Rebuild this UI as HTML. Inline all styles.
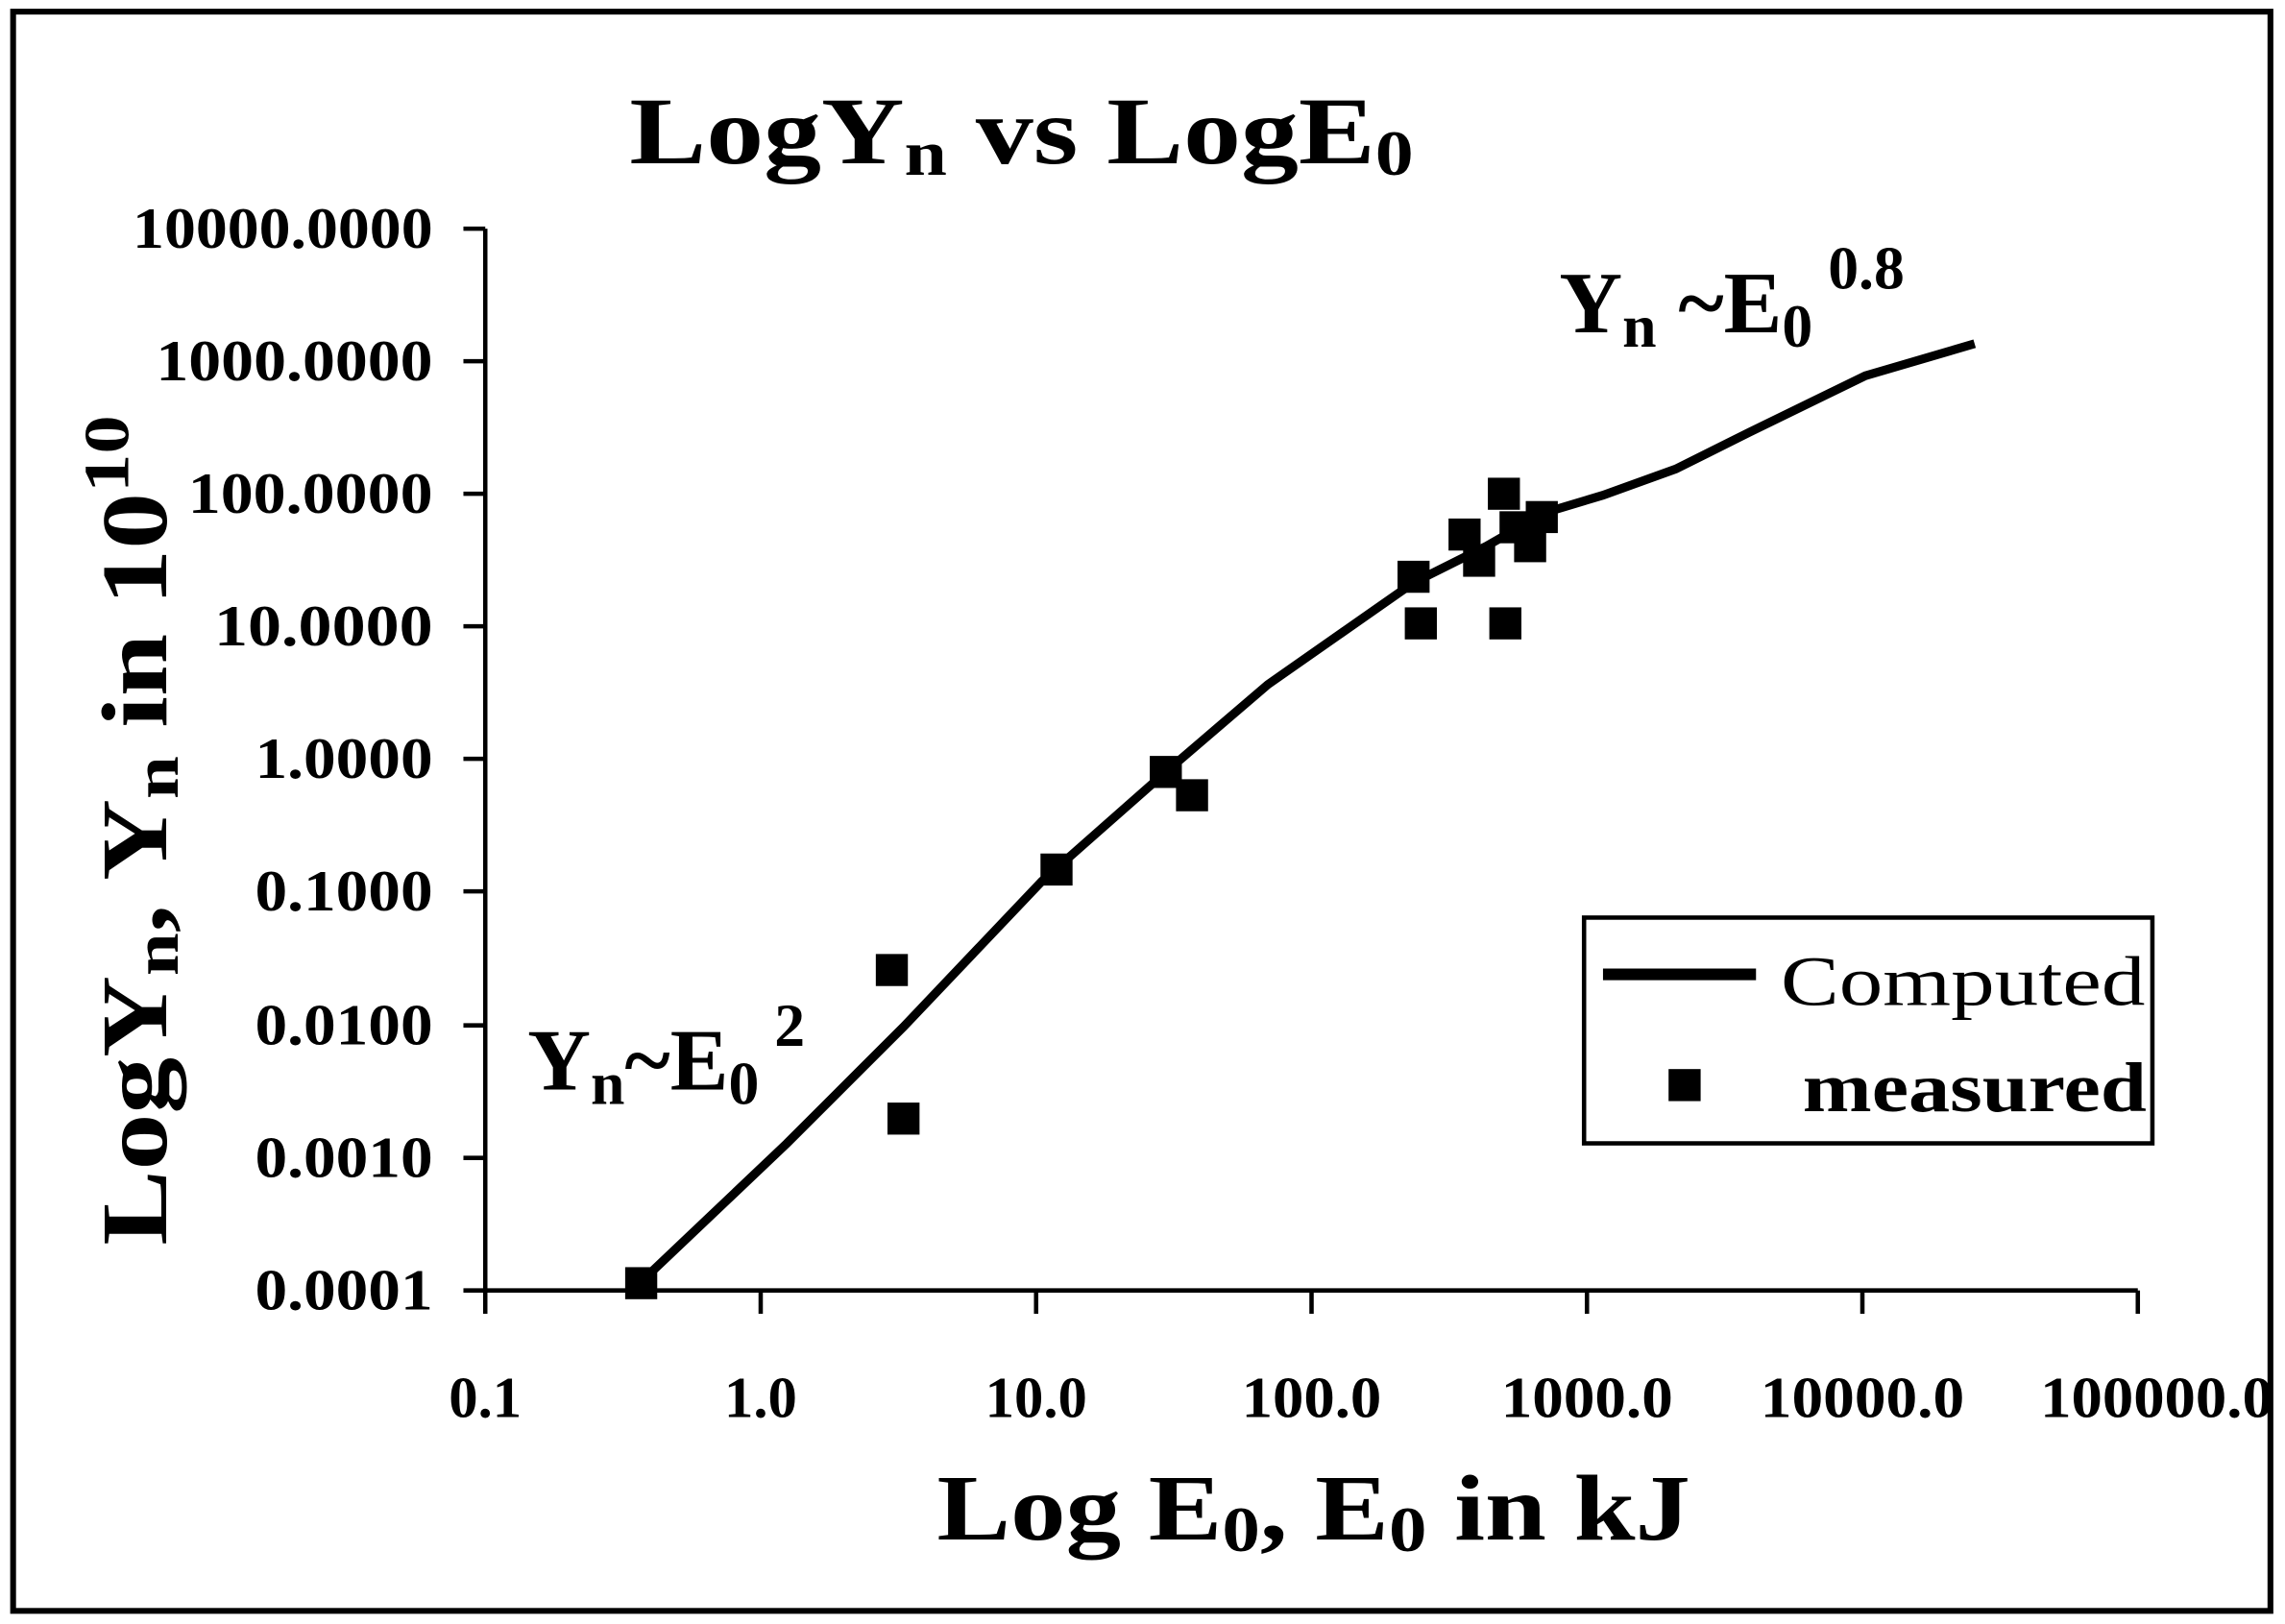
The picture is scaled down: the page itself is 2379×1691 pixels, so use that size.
<!DOCTYPE html>
<html><head><style>html,body{margin:0;padding:0;background:#fff}svg{display:block}</style></head>
<body>
<svg width="2379" height="1691" viewBox="0 0 1568 1115" preserveAspectRatio="none" xmlns="http://www.w3.org/2000/svg" font-family="Liberation Serif, serif" font-weight="bold">
<rect x="9" y="8" width="1549" height="1098" fill="#fff" stroke="#000" stroke-width="4"/>
<text x="432" y="112" font-size="66" textLength="538" lengthAdjust="spacingAndGlyphs">LogY<tspan font-size="44" dy="8">n</tspan><tspan dy="-8"> vs LogE</tspan><tspan font-size="44" dy="8">0</tspan></text>
<g stroke="#000" stroke-width="3" fill="none">
<line x1="333" y1="157" x2="333" y2="888"/>
<line x1="333" y1="886" x2="1467" y2="886"/>
<line x1="318" y1="157" x2="333" y2="157"/><line x1="318" y1="248" x2="333" y2="248"/>
<line x1="318" y1="339" x2="333" y2="339"/><line x1="318" y1="430" x2="333" y2="430"/>
<line x1="318" y1="521" x2="333" y2="521"/><line x1="318" y1="612" x2="333" y2="612"/>
<line x1="318" y1="704" x2="333" y2="704"/><line x1="318" y1="795" x2="333" y2="795"/>
<line x1="318" y1="886" x2="333" y2="886"/>
<line x1="333" y1="886" x2="333" y2="902"/><line x1="522" y1="886" x2="522" y2="902"/>
<line x1="711" y1="886" x2="711" y2="902"/><line x1="900" y1="886" x2="900" y2="902"/>
<line x1="1089" y1="886" x2="1089" y2="902"/><line x1="1278" y1="886" x2="1278" y2="902"/>
<line x1="1467" y1="886" x2="1467" y2="902"/>
</g>
<g font-size="40" text-anchor="end">
<text x="297" y="170" textLength="206" lengthAdjust="spacingAndGlyphs">10000.0000</text>
<text x="297" y="261" textLength="190" lengthAdjust="spacingAndGlyphs">1000.0000</text>
<text x="297" y="352" textLength="168" lengthAdjust="spacingAndGlyphs">100.0000</text>
<text x="297" y="443" textLength="150" lengthAdjust="spacingAndGlyphs">10.0000</text>
<text x="297" y="534" textLength="122" lengthAdjust="spacingAndGlyphs">1.0000</text>
<text x="297" y="625" textLength="122" lengthAdjust="spacingAndGlyphs">0.1000</text>
<text x="297" y="717" textLength="122" lengthAdjust="spacingAndGlyphs">0.0100</text>
<text x="297" y="808" textLength="122" lengthAdjust="spacingAndGlyphs">0.0010</text>
<text x="297" y="899" textLength="122" lengthAdjust="spacingAndGlyphs">0.0001</text>
</g>
<g font-size="40" text-anchor="middle">
<text x="333" y="973" textLength="50" lengthAdjust="spacingAndGlyphs">0.1</text>
<text x="522" y="973" textLength="50" lengthAdjust="spacingAndGlyphs">1.0</text>
<text x="711" y="973" textLength="70" lengthAdjust="spacingAndGlyphs">10.0</text>
<text x="900" y="973" textLength="96" lengthAdjust="spacingAndGlyphs">100.0</text>
<text x="1089" y="973" textLength="118" lengthAdjust="spacingAndGlyphs">1000.0</text>
<text x="1278" y="973" textLength="140" lengthAdjust="spacingAndGlyphs">10000.0</text>
<text x="1480" y="973" textLength="160" lengthAdjust="spacingAndGlyphs">100000.0</text>
</g>
<text x="643" y="1057" font-size="64" textLength="517" lengthAdjust="spacingAndGlyphs">Log E<tspan font-size="44" dy="8">0</tspan><tspan dy="-8">,  E</tspan><tspan font-size="44" dy="8">0</tspan><tspan dy="-8"> in kJ</tspan></text>
<text transform="translate(114,855) rotate(-90)" font-size="64" textLength="570" lengthAdjust="spacingAndGlyphs">LogY<tspan font-size="44" dy="8">n</tspan><tspan dy="-8">, Y</tspan><tspan font-size="44" dy="8">n</tspan><tspan dy="-8"> in 10</tspan><tspan font-size="44" dy="-26">10</tspan></text>
<text x="1070" y="228" font-size="60">Y<tspan font-size="42" dy="10">n</tspan><tspan dy="-10"> ~E</tspan><tspan font-size="42" dy="10">0</tspan><tspan font-size="42" dy="-40"> 0.8</tspan></text>
<text x="362" y="748" font-size="60">Y<tspan font-size="42" dy="10">n</tspan><tspan dy="-10">~E</tspan><tspan font-size="42" dy="10">0</tspan><tspan font-size="42" dy="-40"> 2</tspan></text>
<polyline fill="none" stroke="#000" stroke-width="6" points="440,880 540,785 620,705 715,605 800,530 870,470 970,400 1020,375 1060,352 1100,340 1150,322 1200,297 1280,258 1355,236"/>
<g fill="#000">
<rect x="429" y="870" width="22" height="22"/>
<rect x="601" y="655" width="22" height="22"/>
<rect x="609" y="757" width="22" height="22"/>
<rect x="714" y="586" width="22" height="22"/>
<rect x="789" y="519" width="22" height="22"/>
<rect x="807" y="535" width="22" height="22"/>
<rect x="959" y="385" width="22" height="22"/>
<rect x="964" y="417" width="22" height="22"/>
<rect x="994" y="356" width="22" height="22"/>
<rect x="1004" y="374" width="22" height="22"/>
<rect x="1021" y="328" width="22" height="22"/>
<rect x="1022" y="417" width="22" height="22"/>
<rect x="1039" y="364" width="22" height="22"/>
<rect x="1047" y="344" width="22" height="22"/>
<rect x="1029" y="351" width="22" height="22"/>
</g>
<rect x="1087" y="630" width="390" height="155" fill="#fff" stroke="#000" stroke-width="3"/>
<line x1="1100" y1="669" x2="1205" y2="669" stroke="#000" stroke-width="8"/>
<text x="1222" y="690" font-size="48" font-weight="normal" textLength="250" lengthAdjust="spacingAndGlyphs">Computed</text>
<rect x="1145" y="734" width="22" height="22" fill="#000"/>
<text x="1237" y="763" font-size="48" textLength="236" lengthAdjust="spacingAndGlyphs">measured</text>
</svg>
</body></html>
